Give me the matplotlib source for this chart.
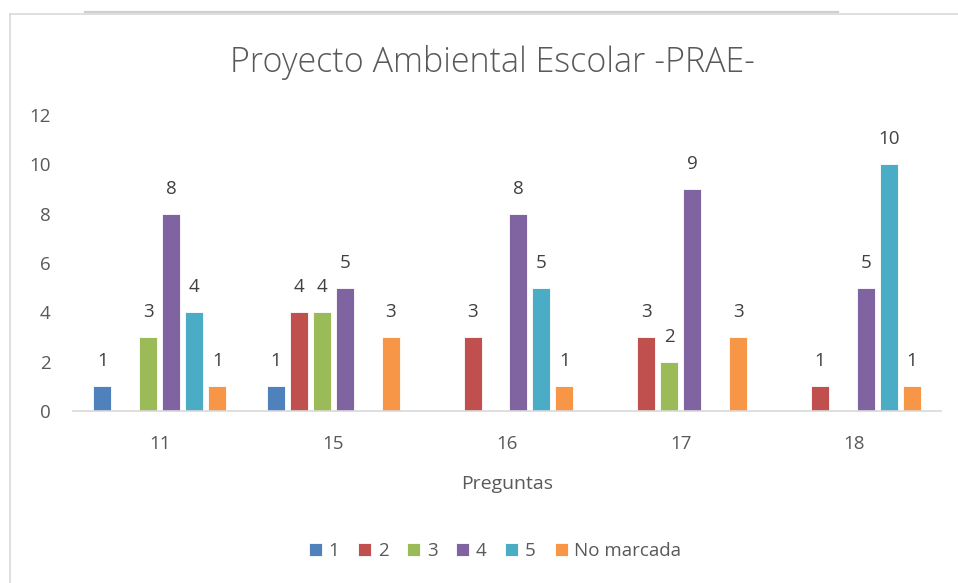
import matplotlib.pyplot as plt
from matplotlib.lines import Line2D
import numpy as np

# Data
preguntas = ['11', '15', '16', '17', '18']
series_names = ['1', '2', '3', '4', '5', 'No marcada']
s1 = [1, 1, 0, 0, 0]
s2 = [0, 4, 3, 3, 1]
s3 = [3, 4, 0, 2, 0]
s4 = [8, 5, 8, 9, 5]
s5 = [4, 0, 5, 0, 10]
no_marcada = [1, 3, 1, 3, 1]
all_series = [s1, s2, s3, s4, s5, no_marcada]
colors = ['#4F81BD', '#C0504D', '#9BBB59', '#8064A2', '#4BACC6', '#F79646']

text_color = '#595959'
plt.rcParams['font.family'] = ['Open Sans', 'DejaVu Sans']

fig = plt.figure(figsize=(9.58, 5.83), dpi=100)
ax = fig.add_axes([73 / 958, 1 - 411 / 583, 868 / 958, 296 / 583])

x = np.arange(len(preguntas))
pitch = 0.1324
width = 0.1036
for i, (vals, name, col) in enumerate(zip(all_series, series_names, colors)):
    pos = x + (i - 2.5) * pitch
    ax.bar(pos, vals, width, color=col, label=name, edgecolor='white', linewidth=0.6)
    for xp, v in zip(pos, vals):
        if v > 0:
            ax.annotate(str(v), (xp, v), xytext=(0, 18), textcoords='offset points',
                        ha='center', va='center', fontsize=13.5, color='#404040')

ax.set_xlim(-0.5, 4.5)
ax.set_ylim(0, 12)
ax.set_yticks(range(0, 13, 2))
ax.set_xticks(x)
ax.set_xticklabels(preguntas)
ax.tick_params(axis='both', length=0, labelsize=13.5, labelcolor=text_color)
ax.tick_params(axis='x', pad=17)
ax.tick_params(axis='y', pad=16)

for side in ['top', 'right', 'left']:
    ax.spines[side].set_visible(False)
ax.spines['bottom'].set_color('#D9D9D9')
ax.spines['bottom'].set_linewidth(1.2)

ax.set_xlabel('Preguntas', fontsize=14, color=text_color, labelpad=16)

fig.text(492 / 958, 1 - 62 / 583, 'Proyecto Ambiental Escolar -PRAE-',
         ha='center', va='center', fontsize=24.5, color=text_color, fontweight='light')

ax.legend(loc='center', bbox_to_anchor=(495 / 958, 1 - 551 / 583),
          bbox_transform=fig.transFigure, ncol=6, frameon=False,
          fontsize=13.5, labelcolor=text_color, handlelength=0.7, handleheight=0.7,
          handletextpad=0.35, columnspacing=1.0)

# chart frame
fig.add_artist(Line2D([10 / 958, 10 / 958], [0, 1 - 14 / 583], color='#D9D9D9', lw=1.2))
fig.add_artist(Line2D([10 / 958, 1], [1 - 14 / 583, 1 - 14 / 583], color='#D9D9D9', lw=1.2))
fig.add_artist(Line2D([85 / 958, 838 / 958], [1 - 12 / 583, 1 - 12 / 583], color='#D0D0D0', lw=1.6))

fig.savefig('out.png', dpi=100)
